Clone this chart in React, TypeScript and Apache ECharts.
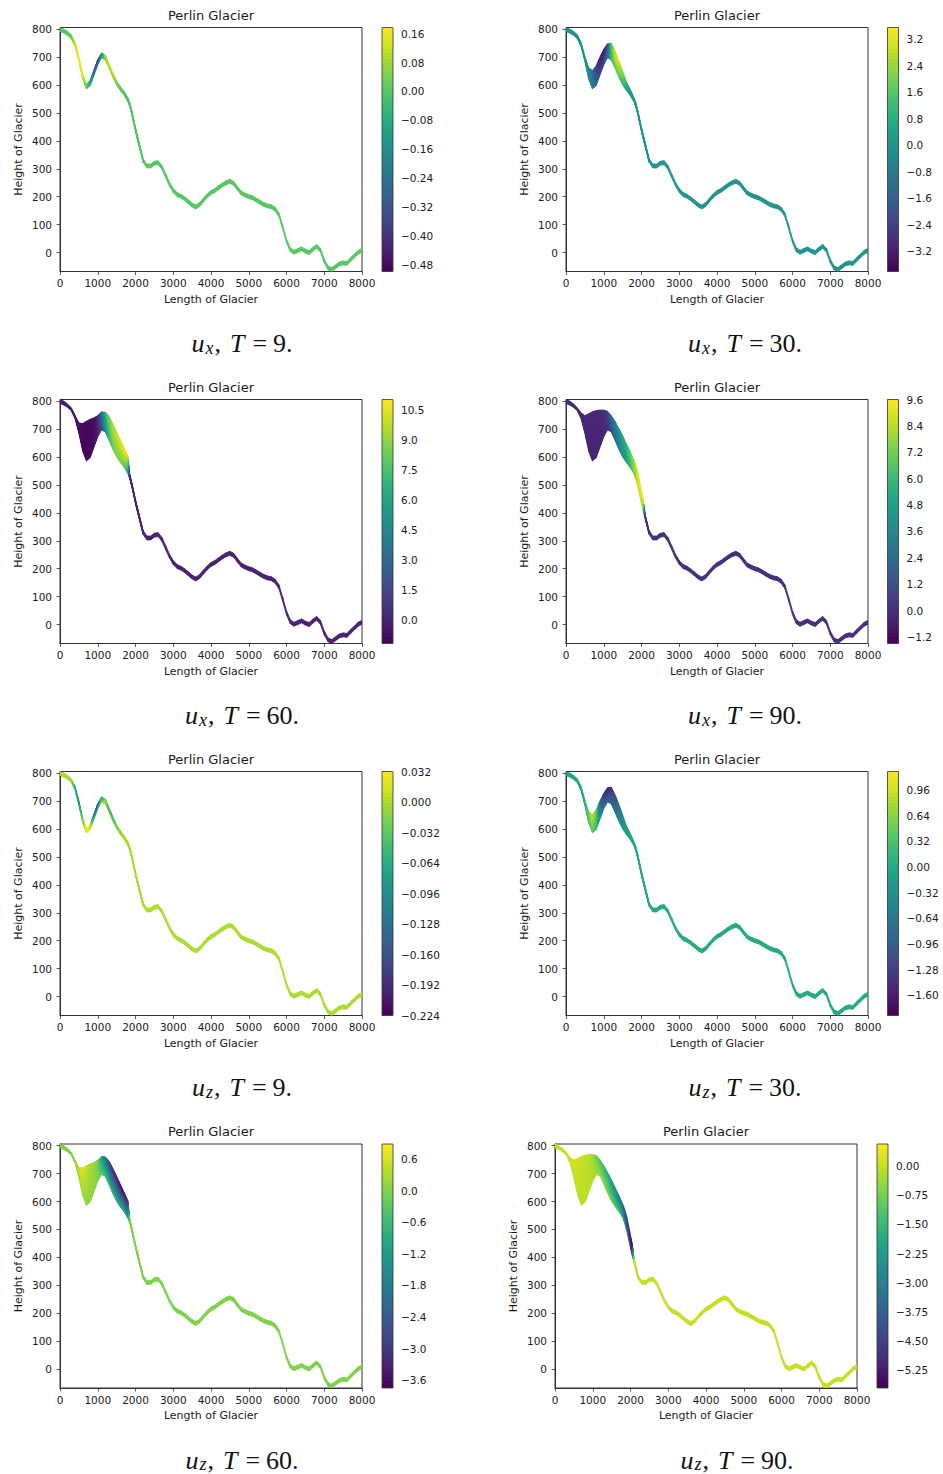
import React, { useEffect, useRef } from "react";
import * as echarts from "echarts";

// viridis colour stops (shared by the colour scales and the colour bars)
const VIRIDIS = [
  "#440154", "#482475", "#414487", "#355f8d", "#2a788e", "#21918c",
  "#22a884", "#44bf70", "#7ad151", "#bddf26", "#fde725",
];

// Mesh node positions along the glacier (m): a denser head and the long tail
const HEAD_X = [0, 100, 200, 300, 400, 500, 600, 700, 800, 900, 1000, 1100, 1200, 1300, 1400, 1500, 1600, 1700, 1800, 1850, 1900, 2000, 2050, 2100, 2200];
const TAIL_X = [2300, 2400, 2500, 2600, 2700, 2800, 2900, 3000, 3100, 3200, 3300, 3400, 3500, 3600, 3700, 3800, 3900, 4000, 4100, 4200, 4300, 4400, 4500, 4600, 4700, 4800, 4900, 5000, 5100, 5200, 5300, 5400, 5500, 5600, 5700, 5800, 5900, 6000, 6100, 6200, 6300, 6400, 6500, 6600, 6700, 6800, 6900, 7000, 7100, 7200, 7300, 7400, 7500, 7600, 7700, 7800, 7900, 8000];

// Bed elevation (m) at the head nodes and at the tail nodes
const BED_HEAD = [792, 786, 778, 766, 738, 685, 621, 586, 598, 636, 673, 697, 690, 660, 628, 600, 580, 563, 540, 522, 495, 433, 405, 378, 323];
const BED_TAIL = [303, 303, 313, 315, 298, 268, 238, 215, 201, 195, 186, 175, 163, 156, 165, 181, 196, 208, 215, 225, 235, 243, 248, 241, 223, 206, 199, 193, 189, 181, 173, 165, 160, 157, 148, 128, 83, 35, 3, -6, 0, 6, -2, -7, 5, 15, 1, -37, -62, -68, -58, -48, -44, -46, -32, -19, -6, 1];

// Ice thickness (m) downstream of the head
const THIN_ICE = 14;

// Ice surface elevation (m) at the head nodes for each time step
const SURF_T9 = [806, 800, 792, 780, 752, 700, 638, 604, 616, 654, 691, 715, 708, 676, 643, 614, 594, 577, 554, 536, 509, 447, 419, 392, 337];
const SURF_T30 = [806, 800, 792, 780, 752, 702, 662, 652, 668, 700, 728, 748, 750, 722, 688, 650, 612, 585, 554, 536, 509, 447, 419, 392, 337];
const SURF_T60 = [806, 800, 790, 776, 748, 722, 720, 728, 735, 740, 748, 762, 760, 745, 718, 690, 662, 632, 602, 536, 509, 447, 419, 392, 337];
const SURF_T90 = [806, 800, 790, 776, 758, 748, 755, 762, 766, 768, 768, 764, 748, 727, 702, 676, 648, 620, 588, 570, 545, 478, 445, 392, 337];

// Velocity at the ice surface (TOP) and at the bed (BED) along the head nodes
const UX9_TOP = [0, 0, 0, 0.03, 0.12, 0.17, 0.16, 0.06, -0.1, -0.35, -0.45, -0.25, 0.08, 0.14, 0.12, 0.06, 0.02, 0, 0, 0, 0, 0, 0, 0, 0];
const UX9_BED = [0, 0, 0, 0.02, 0.08, 0.14, 0.12, 0.01, -0.05, -0.15, -0.2, -0.05, 0.03, 0.06, 0.05, 0.02, 0.01, 0, 0, 0, 0, 0, 0, 0, 0];
const UX30_TOP = [0, 0, 0, 0, 0.1, 0.2, -0.3, -1.2, -2.4, -3.2, -3.5, -2.5, 1.5, 3.2, 3.3, 2.6, 1.2, 0.3, 0, 0, 0, 0, 0, 0, 0];
const UX30_BED = [0, 0, 0, 0, 0, 0.1, -0.2, -0.5, -1.2, -2.0, -2.2, -1.0, 0.8, 1.6, 1.6, 1.0, 0.4, 0.1, 0, 0, 0, 0, 0, 0, 0];
const UX60_TOP = [0, 0, 0, 0, -0.2, -0.5, -0.8, -0.9, -0.9, -0.7, 0, 3, 6.5, 8.5, 9.5, 10, 10.5, 10.8, 10.8, 0, 0, 0, 0, 0, 0];
const UX60_BED = [0, 0, 0, 0, -0.2, -0.8, -1.0, -1.0, -1.0, -0.8, -0.3, 1, 4, 6.5, 8, 8.5, 8.5, 8, 6, 0, 0, 0, 0, 0, 0];
const UX90_TOP = [0, 0, 0, 0, -0.2, -0.3, -0.3, -0.3, -0.3, -0.3, -0.2, 0.5, 2, 3.2, 4.2, 5, 5.8, 6.8, 8, 8.5, 9, 9.4, 9.4, 0, 0];
const UX90_BED = [0, 0, 0, 0, -0.2, -0.3, -0.4, -0.4, -0.4, -0.4, -0.3, 0, 1, 2, 3, 3.8, 4.5, 5.5, 7, 7.5, 8.5, 8.5, 8.5, 0, 0];
const UZ9_TOP = [0, 0, 0, 0, -0.06, -0.1, -0.03, 0.03, 0.03, -0.15, -0.2, -0.08, -0.02, -0.05, -0.06, -0.03, -0.01, 0, 0, 0, 0, 0, 0, 0, 0];
const UZ9_BED = [0, 0, 0, 0, -0.01, -0.02, 0, 0.02, 0.02, -0.03, -0.05, -0.01, 0.01, 0, 0, 0, 0, 0, 0, 0, 0, 0, 0, 0, 0];
const UZ30_TOP = [0, 0, 0, 0, 0, 0.1, 0.5, 1.0, 0.6, -0.6, -1.4, -1.6, -1.5, -1.2, -0.8, -0.5, -0.2, 0, 0, 0, 0, 0, 0, 0, 0];
const UZ30_BED = [0, 0, 0, 0, 0, 0, 0.2, 0.4, 0.2, -0.2, -0.6, -0.8, -0.8, -0.6, -0.4, -0.2, -0.1, 0, 0, 0, 0, 0, 0, 0, 0];
const UZ60_TOP = [0, 0, 0, 0, 0.1, 0.5, 0.7, 0.5, 0.3, 0.2, 0, -1.0, -2.0, -2.8, -3.3, -3.5, -3.6, -3.6, -3.4, 0, 0, 0, 0, 0, 0];
const UZ60_BED = [0, 0, 0, 0, 0, 0.2, 0.2, 0.1, 0.1, 0.1, 0, -0.2, -0.4, -0.5, -0.5, -0.6, -0.7, -0.8, -1.0, 0, 0, 0, 0, 0, 0];
const UZ90_TOP = [0, 0, 0, 0, 0.1, 0.15, 0.1, 0.05, 0, -0.1, -0.3, -0.8, -1.2, -1.5, -1.8, -2.2, -2.6, -3.0, -3.5, -4.0, -4.5, -5.3, -5.5, 0, 0];
const UZ90_BED = [0, 0, 0, 0, 0, 0, 0, -0.1, -0.1, -0.1, -0.1, -0.2, -0.3, -0.4, -0.5, -0.7, -0.9, -1.2, -1.6, -2.0, -2.5, -3.5, -4.0, 0, 0];

// Axis ticks
const X_TICKS = [0, 1000, 2000, 3000, 4000, 5000, 6000, 7000, 8000];
const Y_TICKS = [0, 100, 200, 300, 400, 500, 600, 700, 800];
const Y_RANGE = [-68, 806];

// Colour bar ticks and ranges
const CB_UX9 = [0.16, 0.08, 0, -0.08, -0.16, -0.24, -0.32, -0.4, -0.48];
const CB_UX30 = [3.2, 2.4, 1.6, 0.8, 0, -0.8, -1.6, -2.4, -3.2];
const CB_UX60 = [10.5, 9, 7.5, 6, 4.5, 3, 1.5, 0];
const CB_UX90 = [9.6, 8.4, 7.2, 6, 4.8, 3.6, 2.4, 1.2, 0, -1.2];
const CB_UZ9 = [0.032, 0, -0.032, -0.064, -0.096, -0.128, -0.16, -0.192, -0.224];
const CB_UZ30 = [0.96, 0.64, 0.32, 0, -0.32, -0.64, -0.96, -1.28, -1.6];
const CB_UZ60 = [0.6, 0, -0.6, -1.2, -1.8, -2.4, -3.0, -3.6];
const CB_UZ90 = [0, -0.75, -1.5, -2.25, -3, -3.75, -4.5, -5.25];

const PANELS = [
  { comp: "x", T: 9, surf: SURF_T9, top: UX9_TOP, bed: UX9_BED, range: [-0.498, 0.177], ticks: CB_UX9, digits: 2 },
  { comp: "x", T: 30, surf: SURF_T30, top: UX30_TOP, bed: UX30_BED, range: [-3.81, 3.55], ticks: CB_UX30, digits: 1 },
  { comp: "x", T: 60, surf: SURF_T60, top: UX60_TOP, bed: UX60_BED, range: [-1.2, 11.03], ticks: CB_UX60, digits: 1 },
  { comp: "x", T: 90, surf: SURF_T90, top: UX90_TOP, bed: UX90_BED, range: [-1.5, 9.6], ticks: CB_UX90, digits: 1 },
  { comp: "z", T: 9, surf: SURF_T9, top: UZ9_TOP, bed: UZ9_BED, range: [-0.224, 0.032], ticks: CB_UZ9, digits: 3 },
  { comp: "z", T: 30, surf: SURF_T30, top: UZ30_TOP, bed: UZ30_BED, range: [-1.85, 1.19], ticks: CB_UZ30, digits: 2 },
  { comp: "z", T: 60, surf: SURF_T60, top: UZ60_TOP, bed: UZ60_BED, range: [-3.75, 0.89], ticks: CB_UZ60, digits: 1 },
  { comp: "z", T: 90, surf: SURF_T90, top: UZ90_TOP, bed: UZ90_BED, range: [-5.7, 0.56], ticks: CB_UZ90, digits: 2 },
];

// Page layout (px)
const AX_W = 302;
const AX_H = 244;
const CB_W = 11;
const ROW_TOP = [27.5, 399.5, 771.5, 1144];
const LAYOUT = [
  { ax: 60, cb: 382, cap: 242, row: 0 },
  { ax: 566, cb: 887.5, cap: 745, row: 0 },
  { ax: 60, cb: 382, cap: 242, row: 1 },
  { ax: 566, cb: 887.5, cap: 745, row: 1 },
  { ax: 60, cb: 382, cap: 242, row: 2 },
  { ax: 566, cb: 887.5, cap: 745, row: 2 },
  { ax: 60, cb: 382, cap: 242, row: 3 },
  { ax: 555, cb: 877, cap: 737, row: 3 },
];

const TXT = "#1a1a1a";
const SPINE = "#333333";
const SANS = "DejaVu Sans";
const SERIF = "Liberation Serif";

const ALL_X = [...HEAD_X, ...TAIL_X];
const ALL_BED = [...BED_HEAD, ...BED_TAIL];

const mix = (a: number, b: number, t: number) => a + (b - a) * t;

// Split the ice body into quadrilateral cells: [x0, x1, yL0, yL1, yR0, yR1, value]
function meshCells(p: (typeof PANELS)[number]) {
  const node = (k: number) =>
    k < HEAD_X.length
      ? { b: ALL_BED[k], s: p.surf[k], vt: p.top[k], vb: p.bed[k] }
      : { b: ALL_BED[k], s: ALL_BED[k] + THIN_ICE, vt: 0, vb: 0 };
  const cells: number[][] = [];
  for (let i = 0; i < ALL_X.length - 1; i++) {
    const L = node(i);
    const R = node(i + 1);
    const head = i + 1 < HEAD_X.length;
    const nx = head ? 4 : 1;
    const ny = head ? 6 : 1;
    for (let a = 0; a < nx; a++) {
      const u0 = a / nx;
      const u1 = (a + 1) / nx;
      const um = (a + 0.5) / nx;
      const x0 = mix(ALL_X[i], ALL_X[i + 1], u0);
      const x1 = mix(ALL_X[i], ALL_X[i + 1], u1);
      const b0 = mix(L.b, R.b, u0);
      const s0 = mix(L.s, R.s, u0);
      const b1 = mix(L.b, R.b, u1);
      const s1 = mix(L.s, R.s, u1);
      const vt = mix(L.vt, R.vt, um);
      const vb = mix(L.vb, R.vb, um);
      for (let c = 0; c < ny; c++) {
        const f0 = c / ny;
        const f1 = (c + 1) / ny;
        const fm = (c + 0.5) / ny;
        cells.push([x0, x1, mix(b0, s0, f0), mix(b0, s0, f1), mix(b1, s1, f0), mix(b1, s1, f1), mix(vb, vt, fm)]);
      }
    }
  }
  return cells;
}

const fmtTick = (digits: number) => (v: number) =>
  (v < -1e-9 ? "\u2212" : "") + Math.abs(v).toFixed(digits);

function buildOption() {
  const grid: any[] = [];
  const xAxis: any[] = [];
  const yAxis: any[] = [];
  const series: any[] = [];
  const visualMap: any[] = [];
  const graphic: any[] = [];
  const tickFont = { fontFamily: SANS, fontSize: 10.5, color: TXT };
  const capColor = "#111111";

  PANELS.forEach((p, i) => {
    const L = LAYOUT[i];
    const top = ROW_TOP[L.row];
    const g = 2 * i;

    grid.push({ left: L.ax, top, width: AX_W, height: AX_H, show: true, borderColor: SPINE, borderWidth: 1, backgroundColor: "transparent" });
    grid.push({ left: L.cb, top, width: CB_W, height: AX_H, show: false });

    xAxis.push({
      gridIndex: g, type: "value", min: 0, max: 8000, interval: 1000,
      name: "Length of Glacier", nameLocation: "middle", nameGap: 22,
      nameTextStyle: { fontFamily: SANS, fontSize: 11, color: TXT },
      axisLine: { show: true, onZero: false, lineStyle: { color: SPINE, width: 1 } },
      axisTick: { show: true, length: 3.5, customValues: X_TICKS, lineStyle: { color: SPINE, width: 0.8 } },
      axisLabel: { ...tickFont, margin: 6, customValues: X_TICKS, formatter: (v: number) => String(v), hideOverlap: false },
      splitLine: { show: false },
    });
    xAxis.push({ gridIndex: g + 1, type: "value", min: 0, max: 1, show: false });

    yAxis.push({
      gridIndex: g, type: "value", min: Y_RANGE[0], max: Y_RANGE[1],
      name: "Height of Glacier", nameLocation: "middle", nameGap: 36,
      nameTextStyle: { fontFamily: SANS, fontSize: 11, color: TXT },
      axisLine: { show: true, onZero: false, lineStyle: { color: SPINE, width: 1 } },
      axisTick: { show: true, length: 3.5, customValues: Y_TICKS, lineStyle: { color: SPINE, width: 0.8 } },
      axisLabel: { ...tickFont, margin: 8, customValues: Y_TICKS, formatter: (v: number) => String(v), hideOverlap: false },
      splitLine: { show: false },
    });
    yAxis.push({
      gridIndex: g + 1, type: "value", min: p.range[0], max: p.range[1], position: "right",
      axisLine: { show: false },
      axisTick: { show: true, length: 3.5, customValues: p.ticks, lineStyle: { color: SPINE, width: 0.8 } },
      axisLabel: { ...tickFont, margin: 8, customValues: p.ticks, formatter: fmtTick(p.digits), hideOverlap: false },
      splitLine: { show: false },
    });

    series.push({
      type: "custom",
      xAxisIndex: g,
      yAxisIndex: g,
      silent: true,
      clip: true,
      data: meshCells(p),
      encode: { x: [0, 1], y: [2, 3, 4, 5] },
      renderItem: (_params: any, api: any) => {
        const a = api.coord([api.value(0), api.value(2)]);
        const b = api.coord([api.value(1), api.value(4)]);
        const c = api.coord([api.value(1), api.value(5)]);
        const d = api.coord([api.value(0), api.value(3)]);
        const col = api.visual("color");
        return {
          type: "polygon",
          shape: { points: [a, b, c, d] },
          style: { fill: col, stroke: col, lineWidth: 0.9 },
        };
      },
    });

    visualMap.push({
      type: "continuous", show: false, seriesIndex: i, dimension: 6,
      min: p.range[0], max: p.range[1], inRange: { color: VIRIDIS },
    });

    // colour bar
    graphic.push({
      type: "rect", silent: true, z: 10,
      shape: { x: L.cb, y: top, width: CB_W, height: AX_H },
      style: {
        fill: new echarts.graphic.LinearGradient(0, 1, 0, 0,
          VIRIDIS.map((c, k) => ({ offset: k / (VIRIDIS.length - 1), color: c }))),
        stroke: SPINE, lineWidth: 0.8,
      },
    });

    // panel title
    graphic.push({
      type: "text", silent: true,
      x: L.ax + AX_W / 2, y: top - 12.5,
      style: { text: "Perlin Glacier", fontFamily: SANS, fontSize: 13, fill: TXT, align: "center", verticalAlign: "middle" },
    });

    // caption below the panel
    graphic.push({
      type: "text", silent: true,
      x: L.cap, y: top + 314,
      style: {
        text: `{u|u}{s|${p.comp}}{c|,}{t|T}{e|=}{n|${p.T}.}`,
        align: "center", verticalAlign: "middle",
        rich: {
          u: { fontFamily: SERIF, fontStyle: "italic", fontSize: 26, lineHeight: 30, verticalAlign: "bottom", fill: capColor, padding: [0, 1, 0, 0] },
          s: { fontFamily: SERIF, fontStyle: "italic", fontSize: 18, lineHeight: 16, verticalAlign: "bottom", fill: capColor, padding: [0, 1, 0, 0] },
          c: { fontFamily: SERIF, fontSize: 26, lineHeight: 30, verticalAlign: "bottom", fill: capColor, padding: [0, 9, 0, 0] },
          t: { fontFamily: SERIF, fontStyle: "italic", fontSize: 26, lineHeight: 30, verticalAlign: "bottom", fill: capColor, padding: [0, 8, 0, 0] },
          e: { fontFamily: SERIF, fontSize: 26, lineHeight: 30, verticalAlign: "bottom", fill: capColor, padding: [0, 6, 0, 0] },
          n: { fontFamily: SERIF, fontSize: 26, lineHeight: 30, verticalAlign: "bottom", fill: capColor },
        },
      },
    });
  });

  return { animation: false, backgroundColor: "#ffffff", grid, xAxis, yAxis, series, visualMap, graphic };
}

export default function App() {
  const ref = useRef<HTMLDivElement>(null);
  useEffect(() => {
    document.body.style.margin = "0";
    const chart = echarts.init(ref.current!, null, { renderer: "svg" });
    chart.setOption(buildOption() as any);
    return () => chart.dispose();
  }, []);
  return <div ref={ref} style={{ width: 943, height: 1474 }} />;
}
